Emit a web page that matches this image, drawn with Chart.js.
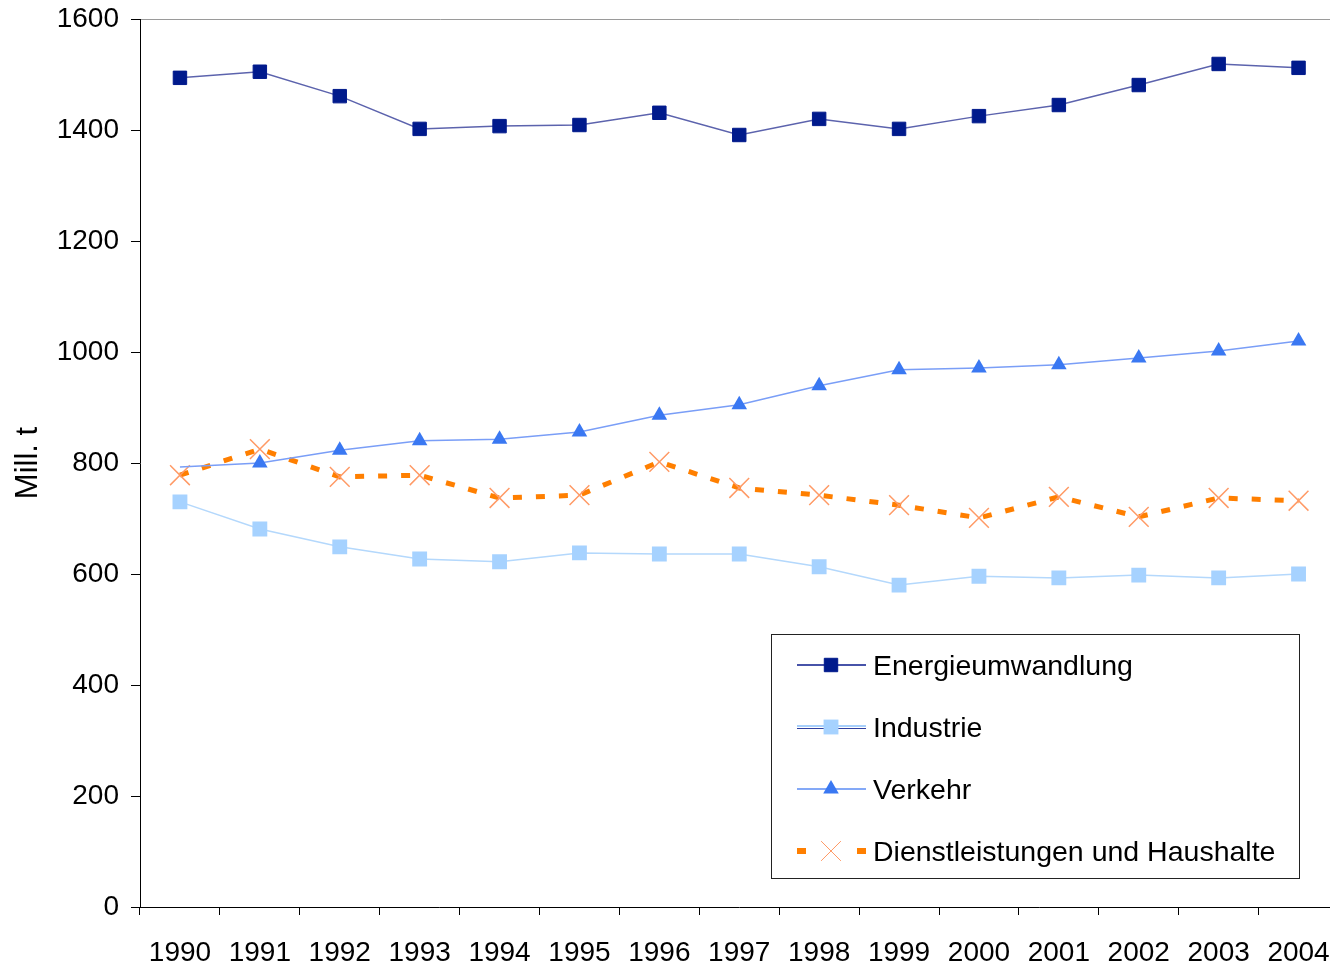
<!DOCTYPE html>
<html>
<head>
<meta charset="utf-8">
<script src="https://cdn.jsdelivr.net/npm/chart.js@4.4.1/dist/chart.umd.min.js"></script>
<style>
html,body{margin:0;padding:0;background:#fff;overflow:hidden;}
#wrap{position:relative;width:1354px;height:966px;}
</style>
</head>
<body>
<div id="wrap"><canvas id="c" width="1354" height="966"></canvas></div>
<script>
const years = ['1990','1991','1992','1993','1994','1995','1996','1997','1998','1999','2000','2001','2002','2003','2004'];
const energieumwandlung = [1494,1505,1461,1402,1407,1409,1431,1391,1420,1402,1425,1445,1481,1519,1512];
const industrie = [730,681,649,627,622,638,636,636,613,580,596,593,598,593,600];
const verkehr = [793,800,823,840,843,856,886,905,939,968,971,977,989,1002,1020];
const dienstleistungen = [778,825,775,778,737,742,802,755,742,724,701,739,703,737,732];
const yTicks = [0,200,400,600,800,1000,1200,1400,1600];
const seriesNames = ['Energieumwandlung','Industrie','Verkehr','Dienstleistungen und Haushalte'];

const FONT = 'Liberation Sans, Arial, sans-serif';
const legendMarkerColors = ['#001a8c', '#a6d2ff', '#3a78f2', '#ff9a66'];

const legendPlugin = {
  id: 'boxLegend',
  afterDraw(chart) {
    const ctx = chart.ctx;
    const bx = 771, by = 634, bw = 528, bh = 244;
    ctx.save();
    ctx.fillStyle = '#fff';
    ctx.fillRect(bx, by, bw, bh);
    ctx.strokeStyle = '#222';
    ctx.lineWidth = 1;
    ctx.strokeRect(bx + 0.5, by + 0.5, bw, bh);
    const ys = [665, 727, 789, 851];
    const x0 = 797, x1 = 866, xm = 831;
    chart.data.datasets.forEach((ds, i) => {
      const y = ys[i];
      ctx.save();
      if (i === 3) {
        ctx.fillStyle = '#ff7f00';
        ctx.fillRect(x0, y - 3, 9, 6);
        ctx.fillRect(x1 - 9, y - 3, 9, 6);
      } else if (i === 1) {
        ctx.strokeStyle = '#a8d0fb';
        ctx.lineWidth = 2;
        ctx.beginPath(); ctx.moveTo(x0, y - 1); ctx.lineTo(x1, y - 1); ctx.stroke();
        ctx.strokeStyle = '#3040a0';
        ctx.lineWidth = 1;
        ctx.beginPath(); ctx.moveTo(x0, y + 1.5); ctx.lineTo(x1, y + 1.5); ctx.stroke();
      } else {
        ctx.strokeStyle = i === 0 ? '#0a1a8c' : '#5b8df5';
        ctx.lineWidth = 1.5;
        ctx.beginPath(); ctx.moveTo(x0, y); ctx.lineTo(x1, y); ctx.stroke();
      }
      ctx.restore();
      ctx.save();
      ctx.fillStyle = legendMarkerColors[i];
      ctx.strokeStyle = legendMarkerColors[i];
      Chart.helpers.drawPoint(ctx, {
        pointStyle: ds.pointStyle, radius: ds.pointRadius, rotation: 0,
        borderWidth: ds.pointBorderWidth
      }, xm, y);
      ctx.restore();
      ctx.fillStyle = '#000';
      ctx.font = '28.5px ' + FONT;
      ctx.textBaseline = 'middle';
      ctx.textAlign = 'left';
      ctx.fillText(ds.label, 873, y + 2);
    });
    ctx.restore();
  }
};

new Chart(document.getElementById('c'), {
  type: 'line',
  data: {
    labels: years,
    datasets: [
      {
        label: seriesNames[0], data: energieumwandlung,
        borderColor: '#5c63ad', borderWidth: 1.5,
        pointStyle: 'rect', pointRadius: 9.5,
        pointBackgroundColor: '#001a8c', pointBorderColor: '#001a8c', pointBorderWidth: 1,
        tension: 0, order: 1
      },
      {
        label: seriesNames[1], data: industrie,
        borderColor: '#b4d8fc', borderWidth: 1.5,
        pointStyle: 'rect', pointRadius: 10.5,
        pointBackgroundColor: '#a6d2ff', pointBorderColor: '#a6d2ff', pointBorderWidth: 0,
        tension: 0, order: 2
      },
      {
        label: seriesNames[2], data: verkehr,
        borderColor: '#7a9ef7', borderWidth: 1.5,
        pointStyle: 'triangle', pointRadius: 9,
        pointBackgroundColor: verkehr.map((v, i) => i === 0 ? 'rgba(0,0,0,0)' : '#3a78f2'),
        pointBorderColor: verkehr.map((v, i) => i === 0 ? 'rgba(0,0,0,0)' : '#3a78f2'),
        pointBorderWidth: 0,
        tension: 0, order: 3
      },
      {
        label: seriesNames[3], data: dienstleistungen,
        borderColor: '#ff7f00', borderWidth: 5, borderDash: [9, 14],
        pointStyle: 'crossRot', pointRadius: 14,
        pointBackgroundColor: '#ff9a66', pointBorderColor: '#ff9a66', pointBorderWidth: 1.5,
        tension: 0, order: 4
      }
    ]
  },
  options: {
    responsive: false,
    animation: false,
    devicePixelRatio: 1,
    layout: { padding: { top: 19, right: 0, left: 0, bottom: 0 } },
    plugins: { legend: { display: false }, tooltip: { enabled: false } },
    scales: {
      x: {
        type: 'category',
        offset: true,
        afterFit(s) { s.height = 59; s.paddingLeft = 0; s.paddingRight = 0; },
        grid: { offset: true, drawOnChartArea: false, color: '#000', tickColor: '#000', tickLength: 8 },
        border: { display: true, color: '#000', width: 1 },
        ticks: { color: '#000', font: { family: FONT, size: 28 }, padding: 21, maxRotation: 0, autoSkip: false }
      },
      y: {
        min: 0, max: 1600,
        afterFit(s) { s.width = 140; s.paddingTop = 0; s.paddingBottom = 0; },
        afterBuildTicks(s) { s.ticks = yTicks.map(v => ({ value: v })); },
        grid: {
          color: (c) => (c.tick && c.tick.value === 1600) ? '#9a9a9a' : 'rgba(0,0,0,0)',
          tickColor: '#000', tickLength: 9, lineWidth: 1
        },
        border: { display: true, color: '#000', width: 1 },
        ticks: { color: '#000', font: { family: FONT, size: 28 }, padding: 12, callback: (v) => String(v) },
        title: { display: true, text: 'Mill. t', color: '#000', font: { family: FONT, size: 31 }, padding: { top: 10, bottom: 0 } }
      }
    }
  },
  plugins: [legendPlugin]
});
</script>
</body>
</html>
